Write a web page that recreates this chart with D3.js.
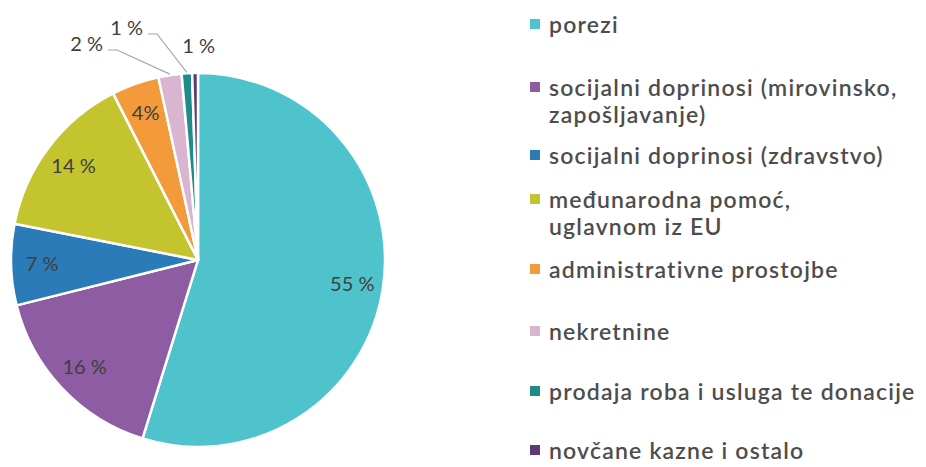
<!DOCTYPE html>
<html>
<head>
<meta charset="utf-8">
<script src="https://cdn.jsdelivr.net/npm/d3@7"></script>
<style>
  body { margin: 0; background: #fff; }
  svg { display: block; }
</style>
</head>
<body>
<div class="chart"></div>
<script>
// data
const categories = [
  "porezi",
  "socijalni doprinosi (mirovinsko,\nzapošljavanje)",
  "socijalni doprinosi (zdravstvo)",
  "međunarodna pomoć,\nuglavnom iz EU",
  "administrativne prostojbe",
  "nekretnine",
  "prodaja roba i usluga te donacije",
  "novčane kazne i ostalo"
];
const shares = [54.8, 16.3, 7.0, 14.4, 4.1, 2.0, 0.9, 0.5];
const shareLabels = ["55 %", "16 %", "7 %", "14 %", "4%", "2 %", "1 %", "1 %"];
const colors = ["#4fc3cb", "#8e5ca2", "#2b7bb9", "#c4c42f", "#f39a3b", "#d9b5cf", "#1f8c89", "#5a3b78"];

const width = 926;
const height = 467;
const cx = 198, cy = 260, radius = 187;
const labelRadius = 156;

// layout of the small outside slices (index -> elbow offset from pie centre)
const callouts = {
  5: { ex: -81, ey: -210 },
  6: { ex: -41, ey: -226 }
};
const legendBaselines = [33, 96, 164, 208, 278, 340, 400, 459];
const legendX = 530;
const lineGap = 27;

const textColor = "#4d4d4d";
const labelColor = "#3f3f3f";

const svg = d3.select(".chart")
  .append("svg")
  .attr("width", width)
  .attr("height", height)
  .style("font-family", "Lato, 'Open Sans', sans-serif");

const data = categories.map((c, i) => ({ name: c, value: shares[i], label: shareLabels[i], color: colors[i] }));

const pie = d3.pie()
  .sort(null)
  .value(d => d.value);

const arcs = pie(data);

const arc = d3.arc().innerRadius(0).outerRadius(radius);
const labelArc = d3.arc().innerRadius(labelRadius).outerRadius(labelRadius);

const g = svg.append("g")
  .attr("transform", `translate(${cx}, ${cy})`);

// slices
g.selectAll(".slice")
  .data(arcs)
  .enter()
  .append("path")
  .attr("class", "slice")
  .attr("d", arc)
  .attr("fill", d => d.data.color)
  .attr("stroke", "#fff")
  .attr("stroke-width", 2.5)
  .attr("stroke-linejoin", "round");

// labels inside the big slices
g.selectAll(".inner-label")
  .data(arcs.filter(d => d.data.value >= 3))
  .enter()
  .append("text")
  .attr("class", "inner-label")
  .attr("transform", d => `translate(${labelArc.centroid(d)})`)
  .attr("text-anchor", "middle")
  .attr("dy", "0.36em")
  .style("font-size", "20px")
  .style("fill", labelColor)
  .text(d => d.data.label);

// small slices with leader lines
arcs.forEach((d, i) => {
  if (d.data.value >= 3) return;
  const mid = (d.startAngle + d.endAngle) / 2;
  const edge = [Math.sin(mid) * (radius + 1), -Math.cos(mid) * (radius + 1)];
  const c = callouts[i];
  if (c) {
    g.append("polyline")
      .attr("points", [edge, [c.ex, c.ey], [c.ex - 9, c.ey]].map(p => p.join(",")).join(" "))
      .attr("fill", "none")
      .attr("stroke", "#a6a6a6")
      .attr("stroke-width", 1.2);
    g.append("text")
      .attr("x", c.ex - 14)
      .attr("y", c.ey - 6)
      .attr("text-anchor", "end")
      .attr("dy", "0.36em")
      .style("font-size", "20px")
      .style("fill", labelColor)
      .text(d.data.label);
  } else {
    const r = radius + 27;
    g.append("text")
      .attr("x", Math.sin(mid) * r + 4)
      .attr("y", -Math.cos(mid) * r)
      .attr("text-anchor", "middle")
      .attr("dy", "0.36em")
      .style("font-size", "20px")
      .style("fill", labelColor)
      .text(d.data.label);
  }
});

// legend
const legend = svg.append("g").attr("class", "legend");

data.forEach((d, i) => {
  const y = legendBaselines[i];
  legend.append("rect")
    .attr("x", legendX)
    .attr("y", y - 14)
    .attr("width", 10)
    .attr("height", 10)
    .attr("fill", d.color);

  // one text per line so wrapped rows stay apart
  d.name.split("\n").forEach((line, j) => {
    legend.append("text")
      .attr("x", legendX + 19)
      .attr("y", y + j * lineGap)
      .style("font-size", "23px")
      .style("letter-spacing", "1.2px")
      .style("font-weight", 600)
      .style("fill", textColor)
      .text(line);
  });
});
</script>
</body>
</html>
